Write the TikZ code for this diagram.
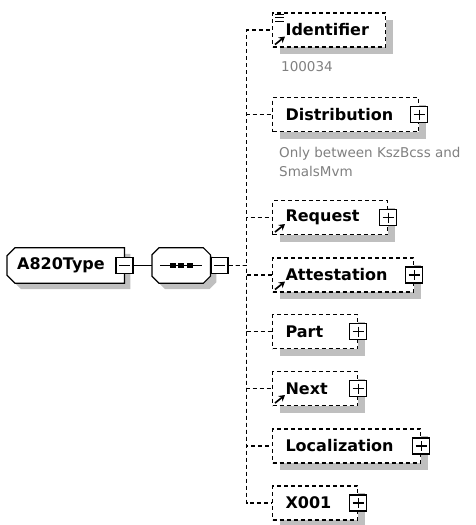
\documentclass[tikz,border=0pt]{standalone}
\usepackage{fontspec}
\setmainfont{DejaVu Sans}
\usetikzlibrary{shadows, arrows.meta, positioning}

\begin{document}
\begin{tikzpicture}[x=1pt, y=1pt,
        % optional child element, dashed frame
        elem/.style={draw, fill=white, line width=1.1pt,
            dash pattern=on 4pt off 3pt,
            minimum height=34pt, inner xsep=13pt, inner ysep=0pt,
            align=left, anchor=west,
            font=\fontsize{16}{19}\selectfont\bfseries,
            drop shadow={shadow xshift=7pt, shadow yshift=-7pt,
                fill=black!25, opacity=1}},
        % top element, chamfered on the left
        root/.style={minimum width=117pt, minimum height=35pt,
            inner xsep=10pt, text width=97pt, align=left, anchor=west,
            font=\fontsize{16}{19}\selectfont\bfseries,
            append after command={%
                \pgfextra
                \fill[black!25, transform canvas={shift={(6pt,-6pt)}}]
                    ([xshift=8pt]\tikzlastnode.north west) --
                    (\tikzlastnode.north east) -- (\tikzlastnode.south east) --
                    ([xshift=8pt]\tikzlastnode.south west) --
                    ([yshift=8pt]\tikzlastnode.south west) --
                    ([yshift=-8pt]\tikzlastnode.north west) -- cycle;
                \draw[fill=white, line width=1.2pt]
                    ([xshift=8pt]\tikzlastnode.north west) --
                    (\tikzlastnode.north east) -- (\tikzlastnode.south east) --
                    ([xshift=8pt]\tikzlastnode.south west) --
                    ([yshift=8pt]\tikzlastnode.south west) --
                    ([yshift=-8pt]\tikzlastnode.north west) -- cycle;
                \endpgfextra}},
        % sequence compositor, chamfered all round
        compositor/.style={minimum width=58pt, minimum height=35pt,
            inner sep=0pt, anchor=west,
            append after command={%
                \pgfextra
                \fill[black!25, transform canvas={shift={(6pt,-6pt)}}]
                    ([xshift=7pt]\tikzlastnode.north west) --
                    ([xshift=-7pt]\tikzlastnode.north east) --
                    ([yshift=-7pt]\tikzlastnode.north east) --
                    ([yshift=7pt]\tikzlastnode.south east) --
                    ([xshift=-7pt]\tikzlastnode.south east) --
                    ([xshift=7pt]\tikzlastnode.south west) --
                    ([yshift=7pt]\tikzlastnode.south west) --
                    ([yshift=-7pt]\tikzlastnode.north west) -- cycle;
                \draw[fill=white, line width=1.2pt]
                    ([xshift=7pt]\tikzlastnode.north west) --
                    ([xshift=-7pt]\tikzlastnode.north east) --
                    ([yshift=-7pt]\tikzlastnode.north east) --
                    ([yshift=7pt]\tikzlastnode.south east) --
                    ([xshift=-7pt]\tikzlastnode.south east) --
                    ([xshift=7pt]\tikzlastnode.south west) --
                    ([yshift=7pt]\tikzlastnode.south west) --
                    ([yshift=-7pt]\tikzlastnode.north west) -- cycle;
                \endpgfextra}},
        sign/.style={draw, fill=white, solid, line width=1.2pt,
            minimum width=17pt, minimum height=16pt, inner sep=0pt},
        plusbox/.style={sign,
            path picture={%
                \draw[line width=1.2pt] ([xshift=3pt]path picture bounding box.west) --
                    ([xshift=-3pt]path picture bounding box.east);
                \draw[line width=1.2pt] ([yshift=-3pt]path picture bounding box.north) --
                    ([yshift=3pt]path picture bounding box.south);}},
        minusbox/.style={sign,
            path picture={%
                \draw[line width=1.2pt] ([xshift=3pt]path picture bounding box.west) --
                    ([xshift=-3pt]path picture bounding box.east);}},
        dashline/.style={line width=1.1pt, dash pattern=on 4pt off 3pt},
        refarrow/.style={line width=1.7pt, -{Stealth[length=6pt, width=7pt]}},
        annot/.style={anchor=north west, align=left, inner sep=0pt,
            text=black!50, font=\fontsize{13.5}{19}\selectfont},
    ]
        \useasboundingbox (0,0) rectangle (475,-525);

        \node[root] (a820) at (7,-265.5) {A820Type};
        \node[minusbox] (a820m) at (a820.east) {};

        \node[compositor] (seq) at (152,-265.5) {};
        \node[minusbox, anchor=west] (seqm) at (seq.east) {};
        \draw[line width=1.2pt] (a820m.east) -- (seq.west);

        % sequence symbol
        \draw[line width=1.2pt] ([xshift=8pt]seq.west) -- ([xshift=-8pt]seq.east);
        \foreach \d in {-8.5,0,8.5}
            \fill ([xshift=\d pt]seq.center) +(-2.8pt,-2.8pt) rectangle +(2.8pt,2.8pt);

        \node[elem, text width=87pt] (idf) at (272,-30) {Identifier};
        \node[elem, text width=120pt] (dist) at (272,-114.5) {Distribution};
        \node[plusbox] (distp) at (dist.east) {};
        \node[elem, text width=89pt] (req) at (272,-217.5) {Request};
        \node[plusbox] (reqp) at (req.east) {};
        \node[elem, text width=115pt] (att) at (272,-275) {Attestation};
        \node[plusbox] (attp) at (att.east) {};
        \node[elem, text width=59pt] (part) at (272,-331.5) {Part};
        \node[plusbox] (partp) at (part.east) {};
        \node[elem, text width=59pt] (next) at (272,-388.5) {Next};
        \node[plusbox] (nextp) at (next.east) {};
        \node[elem, text width=122pt] (loc) at (272,-446) {Localization};
        \node[plusbox] (locp) at (loc.east) {};
        \node[elem, text width=59pt] (x001) at (272,-503) {X001};
        \node[plusbox] (x001p) at (x001.east) {};

        \node[annot] (idfdoc) at ([xshift=9pt, yshift=-14pt]idf.south west) {100034};
        \node[annot] (distdoc) at ([xshift=7pt, yshift=-15pt]dist.south west)
            {Only between KszBcss and\\SmalsMvm};

        \draw[dashline] (seqm.east) -- ++(18,0) |- (idf.west);
        \draw[dashline] (seqm.east) -- ++(18,0) |- (dist.west);
        \draw[dashline] (seqm.east) -- ++(18,0) |- (req.west);
        \draw[dashline] (seqm.east) -- ++(18,0) |- (att.west);
        \draw[dashline] (seqm.east) -- ++(18,0) |- (part.west);
        \draw[dashline] (seqm.east) -- ++(18,0) |- (next.west);
        \draw[dashline] (seqm.east) -- ++(18,0) |- (loc.west);
        \draw[dashline] (seqm.east) -- ++(18,0) |- (x001.west);

        % element icons
        \foreach \dy in {2,5,9}
            \draw[line width=1pt] ([shift={(3pt,-\dy pt)}]idf.north west) -- ++(9pt,0);
        \draw[refarrow] ([shift={(3pt,3pt)}]idf.south west) -- ++(10pt,8pt);
        \draw[refarrow] ([shift={(3pt,3pt)}]req.south west) -- ++(10pt,8pt);
        \draw[refarrow] ([shift={(3pt,3pt)}]att.south west) -- ++(10pt,8pt);
        \draw[refarrow] ([shift={(3pt,3pt)}]next.south west) -- ++(10pt,8pt);
\end{tikzpicture}
\end{document}
